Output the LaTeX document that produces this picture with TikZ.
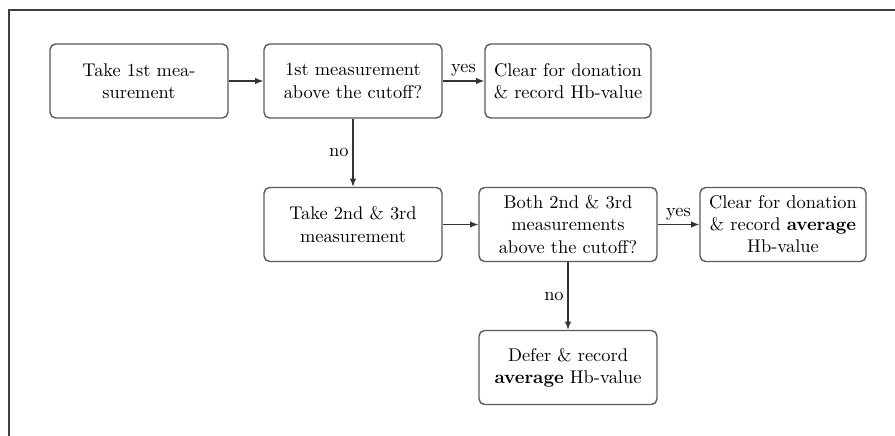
\documentclass[tikz,border=0pt]{standalone}
\usetikzlibrary{arrows.meta}
\begin{document}
\begin{tikzpicture}[x=0.5435pt,y=-0.5435pt,
  box/.style={draw=black!65, rounded corners=3pt, line width=0.75pt, align=center, inner sep=2pt, minimum height=40.2pt},
  wide/.style={box, minimum width=96.7pt},
  narrow/.style={box, minimum width=90.2pt},
  conn/.style={draw=black!80, line width=0.7pt, -{Latex[length=4.5pt,width=3.5pt]}},
  lbl/.style={font=\normalsize, inner sep=2pt}]
\useasboundingbox (0,0) rectangle (895,436);
\draw[black!75, line width=0.8pt] (9,436) -- (9,10) -- (895,10);
\node[wide] (a) at (139,81) {Take 1st mea-\\surement};
\node[wide] (b) at (353,81) {1st measurement\\above the cutoff?};
\node[narrow] (c) at (568,81) {Clear for donation\\\& record Hb-value};
\node[wide] (d) at (353,224.5) {Take 2nd \& 3rd\\measurement};
\node[wide] (e) at (568,224.5) {Both 2nd \& 3rd\\measurements\\above the cutoff?};
\node[narrow] (f) at (783,224.5) {Clear for donation\\\& record \textbf{average}\\Hb-value};
\node[wide] (g) at (568,367.5) {Defer \& record\\\textbf{average} Hb-value};
\draw[conn] (a) -- (b);
\draw[conn] (b) -- node[lbl, above] (l1) {yes} (c);
\draw[conn] (b) -- node[lbl, left] (l2) {no} (d);
\draw[conn] (d) -- (e);
\draw[conn] (e) -- node[lbl, above] (l3) {yes} (f);
\draw[conn] (e) -- node[lbl, left] (l4) {no} (g);
\end{tikzpicture}
\end{document}
